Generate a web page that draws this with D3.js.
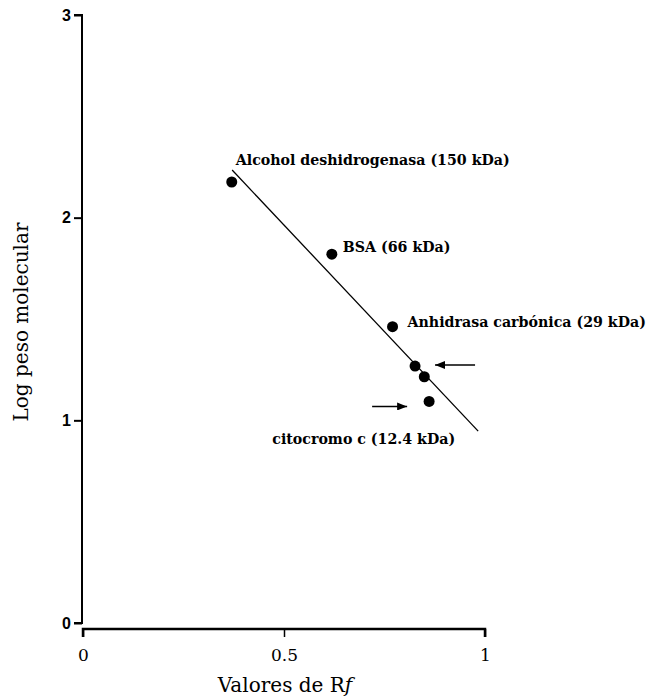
<!DOCTYPE html>
<html>
<head>
<meta charset="utf-8">
<script src="https://cdn.jsdelivr.net/npm/d3@7"></script>
<style>
  html, body { margin: 0; padding: 0; background: #fff; }
  svg { display: block; }
</style>
</head>
<body>
<svg id="chart" width="667" height="696"></svg>
<script>
// ---- data ----
const proteins = ["Alcohol deshidrogenasa (150 kDa)", "BSA (66 kDa)", "Anhidrasa carbónica (29 kDa)", "", "", "citocromo c (12.4 kDa)"];
const rfValues = [0.370, 0.619, 0.770, 0.826, 0.849, 0.861];
const logMW    = [2.176, 1.820, 1.462, 1.268, 1.215, 1.093];
const fitRf    = [0.371, 0.983];
const fitLog   = [2.235, 0.947];
const xTicks   = [0, 0.5, 1];
const xTickLabels = ["0", "0.5", "1"];
const yTicks   = [0, 1, 2, 3];
const arrowTargets = [3, 5]; // indices of points marked with arrows

// ---- layout ----
const svg = d3.select("#chart");
const x = d3.scaleLinear().domain([0, 1]).range([83, 485]);
const y = d3.scaleLinear().domain([0, 3]).range([623, 15]);
const serif = "'DejaVu Serif', serif";

// y axis
const yAxis = d3.axisLeft(y).tickValues(yTicks).tickFormat(d3.format("d")).tickSize(8).tickPadding(3);
const gy = svg.append("g").attr("transform", `translate(${x(0) - 1},0)`).call(yAxis);
gy.select(".domain").attr("d", `M-8,${y(3)}H0V${y(0)}H-8`).attr("stroke-width", 2);
gy.selectAll(".tick line").attr("stroke-width", 2);
gy.selectAll(".tick text").attr("font-family", "'Liberation Sans', Arial, sans-serif")
  .attr("font-weight", "bold").attr("font-size", 16).attr("fill", "#000");

// x axis
const xAxis = d3.axisBottom(x).tickValues(xTicks).tickFormat((d, i) => xTickLabels[i]).tickSize(8).tickPadding(12);
const gx = svg.append("g").attr("transform", `translate(0,629)`).call(xAxis);
gx.select(".domain").attr("d", `M${x(0)},8V0H${x(1)}V8`).attr("stroke-width", 2.5);
gx.selectAll(".tick line").attr("stroke-width", 1.5);
gx.selectAll(".tick text").attr("font-family", serif).attr("font-size", 17).attr("fill", "#000");

// axis titles
svg.append("text").attr("x", 285).attr("y", 692).attr("text-anchor", "middle")
  .attr("font-family", serif).attr("font-size", 20).attr("fill", "#000")
  .call(t => { t.append("tspan").text("Valores de R"); t.append("tspan").attr("font-style", "italic").text("f"); });
svg.append("text").attr("transform", `translate(28,${322}) rotate(-90)`).attr("text-anchor", "middle")
  .attr("font-family", serif).attr("font-size", 20).attr("fill", "#000").text("Log peso molecular");

// fit line
svg.append("line")
  .attr("x1", x(fitRf[0])).attr("y1", y(fitLog[0]))
  .attr("x2", x(fitRf[1])).attr("y2", y(fitLog[1]))
  .attr("stroke", "#000").attr("stroke-width", 1.3);

// points
const pts = rfValues.map((r, i) => ({ r, v: logMW[i], label: proteins[i] }));
svg.selectAll("circle.pt").data(pts).join("circle").attr("class", "pt")
  .attr("cx", d => x(d.r)).attr("cy", d => y(d.v)).attr("r", 5.5).attr("fill", "#000");

// labels (offsets relative to each point)
const labelOffsets = [[4, -17, "start"], [11, -2, "start"], [15, 0, "start"], [0, 0, "start"], [0, 0, "start"], [26, 43, "end"]];
svg.selectAll("text.lbl").data(pts.filter(d => d.label)).join("text").attr("class", "lbl")
  .attr("x", d => x(d.r) + labelOffsets[pts.indexOf(d)][0])
  .attr("y", d => y(d.v) + labelOffsets[pts.indexOf(d)][1])
  .attr("text-anchor", d => labelOffsets[pts.indexOf(d)][2])
  .attr("font-family", serif).attr("font-weight", "bold").attr("font-size", 14.2)
  .attr("fill", "#000").text(d => d.label);

// arrows
const defs = svg.append("defs");
defs.append("marker").attr("id", "ah").attr("viewBox", "0 0 10 8").attr("refX", 10).attr("refY", 4)
  .attr("markerWidth", 10).attr("markerHeight", 8).attr("markerUnits", "userSpaceOnUse").attr("orient", "auto")
  .append("path").attr("d", "M0,0L10,4L0,8Z").attr("fill", "#000");
const arrowGeom = [[60, 20, -1], [-57, -22, 5]]; // [tail dx, tip dx, dy] relative to target point
arrowTargets.forEach((idx, k) => {
  const px = x(rfValues[idx]), py = y(logMW[idx]);
  const [tdx, hdx, dy] = arrowGeom[k];
  svg.append("line").attr("x1", px + tdx).attr("y1", py + dy).attr("x2", px + hdx).attr("y2", py + dy)
    .attr("stroke", "#000").attr("stroke-width", 1.6).attr("marker-end", "url(#ah)");
});
</script>
</body>
</html>
